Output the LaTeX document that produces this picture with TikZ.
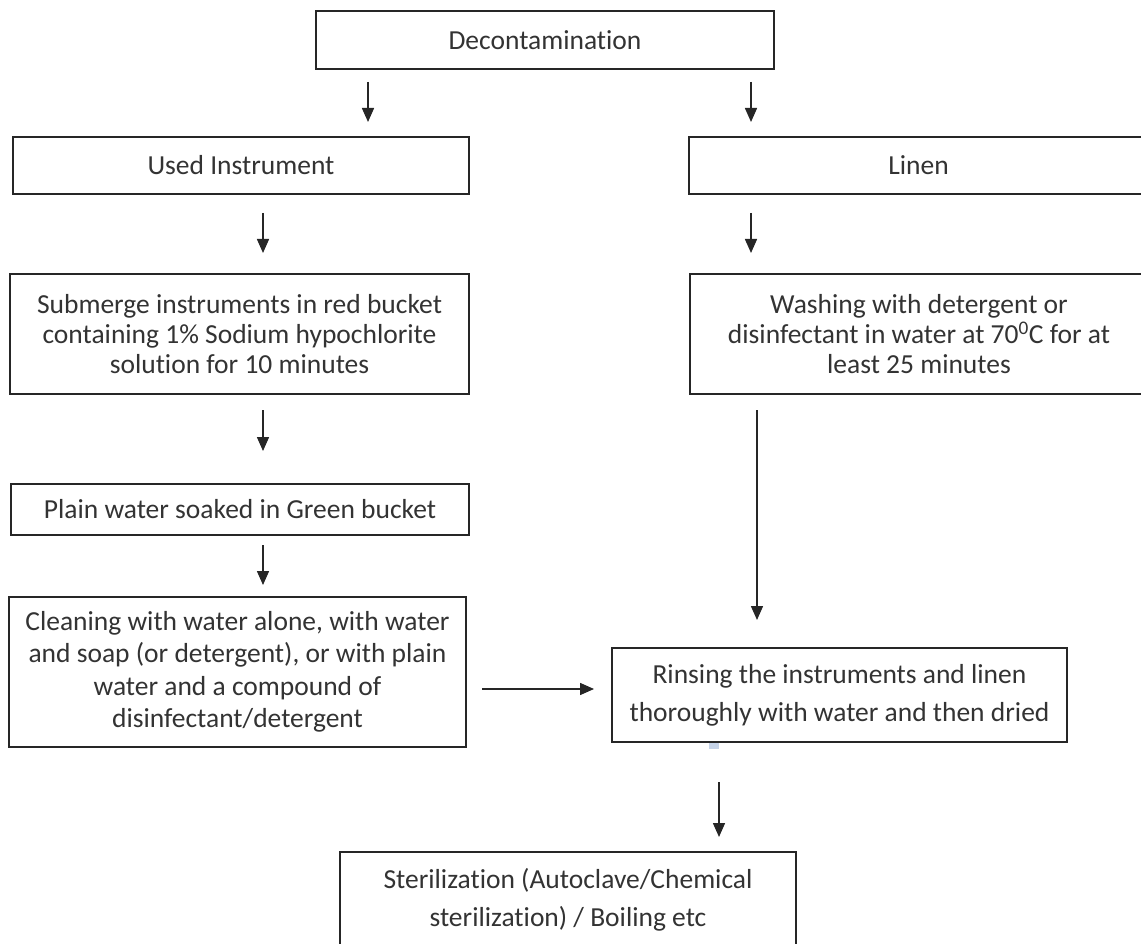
\documentclass[tikz,border=0pt]{standalone}
\usepackage{fontspec}
\setmainfont{Carlito}[Ligatures=NoCommon]
\usetikzlibrary{arrows.meta}
\definecolor{txt}{HTML}{333333}
\definecolor{ln}{HTML}{262626}
\definecolor{bluemark}{HTML}{C5D3E8}
\begin{document}
\begin{tikzpicture}[x=1pt,y=-1pt,
  box/.style={draw=ln, line width=1.8pt, inner sep=0pt, outer sep=0pt, align=center, text=txt},
  f30/.style={font=\fontsize{27.5}{30}\selectfont},
  f32/.style={font=\fontsize{27.5}{32.5}\selectfont},
  f38/.style={font=\fontsize{27.5}{38}\selectfont},
  arr/.style={draw=ln, line width=1.5pt, -{Triangle[width=12pt,length=14pt]}}]
\useasboundingbox (0,0) rectangle (1141,944);
\fill[white] (0,0) rectangle (1141,944);
\begin{scope}
\clip (0,0) rectangle (1141,944);
% boxes
\node[box,f30,minimum width=458pt,minimum height=58pt] (dec) at (545,40) {Decontamination};
\node[box,f30,minimum width=456pt,minimum height=57pt] (ui) at (241,165.5) {Used Instrument};
\node[box,f30,minimum width=459pt,minimum height=57pt] (lin) at (918.5,165.5) {Linen};
\node[box,f30,minimum width=459pt,minimum height=120pt] (sub) at (239.5,334) {Submerge instruments in red bucket\\containing 1\% Sodium hypochlorite\\solution for 10 minutes};
\node[box,f30,minimum width=458pt,minimum height=120pt] (wash) at (919,334) {Washing with detergent or\\disinfectant in water at 70\textsuperscript{0}C for at\\least 25 minutes};
\node[box,f30,minimum width=458pt,minimum height=51pt] (plain) at (240,509.5) {Plain water soaked in Green bucket};
\node[box,f32,minimum width=457pt,minimum height=150pt] (clean) at (237.5,672) {Cleaning with water alone, with water\\and soap (or detergent), or with plain\\water and a compound of\\disinfectant/detergent};
\node[box,f38,minimum width=455pt,minimum height=94pt] (rinse) at (839.5,695) {Rinsing the instruments and linen\\thoroughly with water and then dried};
\node[box,f38,minimum width=456pt,minimum height=96pt] (ster) at (568,900) {Sterilization (Autoclave/Chemical\\sterilization) / Boiling etc};
\end{scope}
% small mark under rinsing box
\fill[bluemark] (709,743) rectangle (719,749);
% arrow end points
\coordinate (a1s) at (368,82);  \coordinate (a1e) at (368,122);
\coordinate (a2s) at (751,82);  \coordinate (a2e) at (751,122);
\coordinate (a3s) at (263,213); \coordinate (a3e) at (263,253);
\coordinate (a4s) at (751,213); \coordinate (a4e) at (751,253);
\coordinate (a5s) at (263,410); \coordinate (a5e) at (263,451);
\coordinate (a6s) at (263,545); \coordinate (a6e) at (263,585);
\coordinate (a7s) at (757,410); \coordinate (a7e) at (757,620);
\coordinate (a8s) at (482,689); \coordinate (a8e) at (594,689);
\coordinate (a9s) at (719,782); \coordinate (a9e) at (719,837);
\draw[arr] (a1s) -- (a1e);
\draw[arr] (a2s) -- (a2e);
\draw[arr] (a3s) -- (a3e);
\draw[arr] (a4s) -- (a4e);
\draw[arr] (a5s) -- (a5e);
\draw[arr] (a6s) -- (a6e);
\draw[arr] (a7s) -- (a7e);
\draw[arr] (a8s) -- (a8e);
\draw[arr] (a9s) -- (a9e);
\end{tikzpicture}
\end{document}
